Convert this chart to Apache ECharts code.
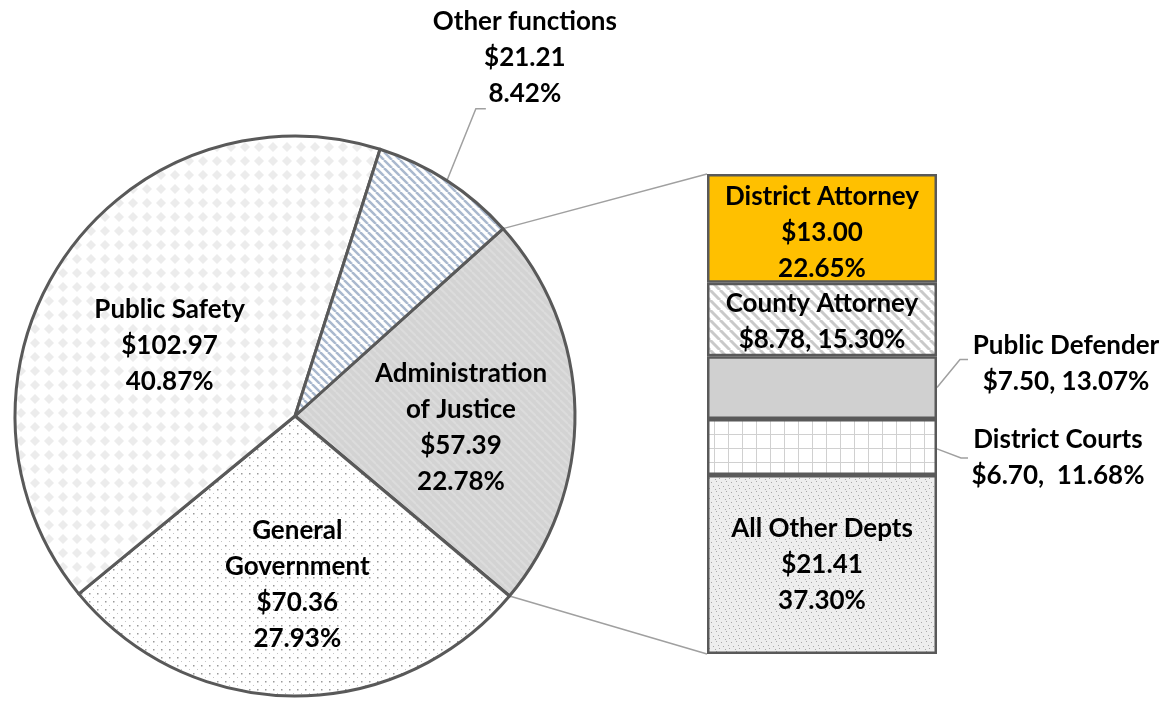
<!DOCTYPE html>
<html>
<head>
<meta charset="utf-8">
<script src="https://cdn.jsdelivr.net/npm/echarts@6/dist/echarts.min.js"></script>
<style>
  html, body { margin: 0; padding: 0; background: #fff; }
  #main { width: 1163px; height: 702px; }
</style>
</head>
<body>
<div id="main"></div>
<script>
// pie: spending by function ($M), clockwise from the exploded slice
var pieNames = ['Administration\nof Justice', 'General\nGovernment', 'Public Safety', 'Other functions'];
var pieValues = [57.39, 70.36, 102.97, 21.21];
var piePercents = ['22.78%', '27.93%', '40.87%', '8.42%'];

// bar: breakdown of Administration of Justice, bottom to top
var barNames = ['All Other Depts', 'District Courts', 'Public Defender', 'County Attorney', 'District Attorney'];
var barValues = [21.41, 6.70, 7.50, 8.78, 13.00];
var barPercents = ['37.30%', '11.68%', '13.07%', '15.30%', '22.65%'];
var barSeps = ['\n', ',  ', ', ', ', ', '\n'];

var PIE_CX = 295, PIE_CY = 416, PIE_R = 280, START = 42;
var GRID = { left: 707, top: 174, width: 230, height: 480 };
var BORDER = '#595959';
var GUIDE = { stroke: '#a0a0a0', lineWidth: 1.5 };
var FONT = { fontFamily: 'Lato', fontWeight: 'bold', fontSize: 26, lineHeight: 36, color: '#000' };

function tile(size, bg, draw) {
  var c = document.createElement('canvas');
  c.width = size; c.height = size;
  var ctx = c.getContext('2d');
  ctx.fillStyle = bg;
  ctx.fillRect(0, 0, size, size);
  draw(ctx, size);
  return { image: c, repeat: 'repeat' };
}
function stripes(color, width) {
  return function (ctx, s) {
    ctx.strokeStyle = color;
    ctx.lineWidth = width;
    for (var k = -1; k <= 1; k++) {
      ctx.beginPath();
      ctx.moveTo(k * s, 0);
      ctx.lineTo(k * s + s, s);
      ctx.stroke();
    }
  };
}

var patSafety = tile(14, '#ffffff', function (ctx) {
  ctx.fillStyle = '#ececec';
  ctx.beginPath();
  ctx.moveTo(7, 2); ctx.lineTo(12, 7); ctx.lineTo(7, 12); ctx.lineTo(2, 7);
  ctx.closePath(); ctx.fill();
});
var patOther = tile(8, '#ffffff', stripes('#a9b8ce', 2.5));
var patJustice = tile(8, '#d3d3d3', stripes('#dcdcdc', 2));
var patGeneral = tile(8, '#ffffff', function (ctx) {
  ctx.fillStyle = '#9a9a9a'; ctx.fillRect(1, 1, 1.5, 1.5);
  ctx.fillStyle = '#c4c4c4'; ctx.fillRect(5, 5, 1, 1);
});
var patCounty = tile(10, '#ffffff', stripes('#c9c9c9', 3));
var patCourts = tile(14, '#ffffff', function (ctx) {
  ctx.strokeStyle = '#d0d0d0'; ctx.lineWidth = 1;
  ctx.beginPath();
  ctx.moveTo(0.5, 0); ctx.lineTo(0.5, 14);
  ctx.moveTo(0, 0.5); ctx.lineTo(14, 0.5);
  ctx.stroke();
});
var patOthers = tile(10, '#eeeeee', function (ctx) {
  ctx.fillStyle = '#a8a8a8';
  [[1, 2], [6, 1], [3, 6], [8, 5], [5, 9], [9, 8]].forEach(function (p) { ctx.fillRect(p[0], p[1], 1, 1); });
});

var pieFills = [patJustice, patGeneral, patSafety, patOther];
var barFills = [patOthers, patCourts, '#d0d0d0', patCounty, '#ffc000'];
var pieShift = [[23, 14], [3, 26], [-7, 10]];

var pieTotal = pieValues.reduce(function (a, b) { return a + b; }, 0);
var barTotal = barValues.reduce(function (a, b) { return a + b; }, 0);

// angle (deg) where slice i starts, clockwise from START
function sliceStart(i) {
  var s = 0;
  for (var k = 0; k < i; k++) s += pieValues[k];
  return START - 360 * s / pieTotal;
}
function edgePoint(deg) {
  var a = deg * Math.PI / 180;
  return [PIE_CX + PIE_R * Math.cos(a), PIE_CY - PIE_R * Math.sin(a)];
}
function moveLabel(r, dx, dy) {
  return { x: r.x + r.width / 2 + dx, y: r.y + r.height / 2 + dy, align: 'center', verticalAlign: 'middle' };
}
var otherMid = edgePoint((sliceStart(3) + sliceStart(4)) / 2);

var chart = echarts.init(document.getElementById('main'));

var barSeries = barValues.map(function (v, i) {
  var outside = (i === 1 || i === 2);
  return {
    type: 'bar',
    stack: 'just',
    barWidth: '100%',
    data: [v],
    silent: true,
    itemStyle: { color: barFills[i], borderColor: BORDER, borderWidth: 2.5 },
    label: Object.assign({
      show: true,
      position: outside ? 'right' : 'inside',
      formatter: function () { return barNames[i] + '\n$' + v.toFixed(2) + barSeps[i] + barPercents[i]; }
    }, FONT),
    labelLayout: function (p) {
      var cy = p.rect.y + p.rect.height / 2;
      var right = p.rect.x + p.rect.width;
      if (i === 2) return { x: right + 129, y: cy - 24, align: 'center', verticalAlign: 'middle' };
      if (i === 1) return { x: right + 121, y: cy + 11, align: 'center', verticalAlign: 'middle' };
      if (i === 4) return moveLabel(p.labelRect, 0, 4);
      if (i === 3) return moveLabel(p.labelRect, 0, 2);
      return {};
    }
  };
});

chart.setOption({
  animation: false,
  grid: GRID,
  xAxis: { type: 'category', data: ['Justice'], show: false },
  yAxis: { type: 'value', min: 0, max: barTotal, show: false },
  series: [{
    type: 'pie',
    center: [PIE_CX, PIE_CY],
    radius: PIE_R,
    startAngle: START,
    clockwise: true,
    silent: true,
    avoidLabelOverlap: false,
    itemStyle: { borderColor: BORDER, borderWidth: 3 },
    label: Object.assign({
      position: 'inside',
      formatter: function (p) {
        return pieNames[p.dataIndex] + '\n$' + pieValues[p.dataIndex].toFixed(2) + '\n' + piePercents[p.dataIndex];
      }
    }, FONT),
    labelLine: { show: false },
    labelLayout: function (p) {
      if (p.dataIndex === 3) {
        return { x: otherMid[0] + 78, y: otherMid[1] - 123, align: 'center', verticalAlign: 'middle' };
      }
      var s = pieShift[p.dataIndex];
      return moveLabel(p.labelRect, s[0], s[1]);
    },
    data: pieValues.map(function (v, i) {
      return { value: v, name: pieNames[i], itemStyle: { color: pieFills[i] } };
    })
  }].concat(barSeries)
});

// connectors and leader lines, placed from the pie geometry and the bar scale
function yAt(v) { return chart.convertToPixel({ gridIndex: 0 }, [0, v])[1]; }
function segMid(i) {
  var s = 0;
  for (var k = 0; k < i; k++) s += barValues[k];
  return yAt(s + barValues[i] / 2);
}
var jTop = edgePoint(sliceStart(0));
var jBot = edgePoint(sliceStart(1));
var barRight = GRID.left + GRID.width;
var pdY = segMid(2), dcY = segMid(1);

chart.setOption({
  graphic: [
    { type: 'line', z: -1, shape: { x1: jTop[0], y1: jTop[1], x2: GRID.left, y2: yAt(barTotal) }, style: GUIDE },
    { type: 'line', z: -1, shape: { x1: jBot[0], y1: jBot[1], x2: GRID.left, y2: yAt(0) }, style: GUIDE },
    { type: 'polyline', z: -1, shape: { points: [otherMid, [otherMid[0] + 29, otherMid[1] - 72], [otherMid[0] + 39, otherMid[1] - 72]] }, style: GUIDE },
    { type: 'polyline', shape: { points: [[barRight, pdY], [barRight + 23, pdY - 28], [barRight + 31, pdY - 28]] }, style: GUIDE },
    { type: 'polyline', shape: { points: [[barRight, dcY + 2], [barRight + 24, dcY + 11], [barRight + 31, dcY + 11]] }, style: GUIDE }
  ]
});
</script>
</body>
</html>
